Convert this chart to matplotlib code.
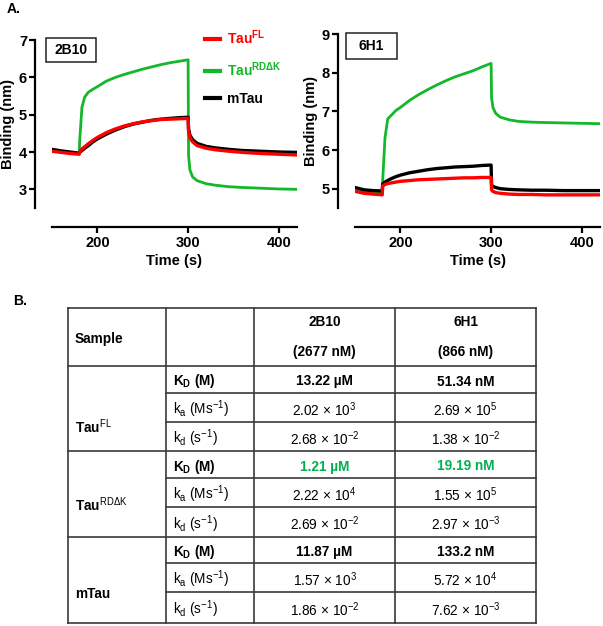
import matplotlib
matplotlib.use("Agg")
import matplotlib.pyplot as plt
from matplotlib.patches import Rectangle

plt.rcParams['font.family'] = ['Liberation Sans', 'DejaVu Sans']
plt.rcParams['mathtext.fontset'] = 'custom'
plt.rcParams['mathtext.rm'] = 'Liberation Sans'
plt.rcParams['mathtext.it'] = 'Liberation Sans:italic'
plt.rcParams['mathtext.bf'] = 'Liberation Sans:bold'

# ---------------- data ----------------
time_s = [150, 160, 170, 180, 180.5, 183, 186, 190, 195, 200, 210, 220, 230, 240,
          250, 260, 270, 280, 290, 300, 300.5, 302, 305, 310, 320, 330, 345, 360,
          380, 400, 420]

# 2B10 panel
tauFL_2B10 = [4.02, 3.99, 3.96, 3.94, 4.00, 4.08, 4.14, 4.22, 4.31, 4.39, 4.52, 4.62,
              4.70, 4.76, 4.81, 4.84, 4.87, 4.88, 4.89, 4.90, 4.55, 4.38, 4.27, 4.17,
              4.10, 4.06, 4.02, 3.99, 3.96, 3.94, 3.92]
tauRD_2B10 = [4.03, 4.00, 3.97, 3.95, 4.30, 5.20, 5.47, 5.60, 5.68, 5.75, 5.90, 6.00,
              6.08, 6.15, 6.22, 6.28, 6.34, 6.39, 6.43, 6.47, 3.90, 3.52, 3.33, 3.23,
              3.15, 3.11, 3.07, 3.05, 3.03, 3.01, 3.00]
mTau_2B10 = [4.07, 4.03, 4.00, 3.97, 3.99, 4.04, 4.10, 4.17, 4.27, 4.35, 4.48, 4.59,
             4.68, 4.75, 4.80, 4.85, 4.88, 4.90, 4.92, 4.93, 4.62, 4.45, 4.33, 4.23,
             4.15, 4.11, 4.07, 4.04, 4.02, 4.00, 3.99]

# 6H1 panel
tauFL_6H1 = [4.93, 4.88, 4.86, 4.84, 5.07, 5.11, 5.13, 5.15, 5.17, 5.19, 5.21, 5.23,
             5.24, 5.25, 5.26, 5.27, 5.28, 5.28, 5.29, 5.29, 4.97, 4.93, 4.90, 4.88,
             4.86, 4.85, 4.85, 4.84, 4.84, 4.84, 4.84]
tauRD_6H1 = [4.95, 4.92, 4.90, 4.88, 5.20, 6.30, 6.80, 6.90, 7.02, 7.10, 7.28, 7.43,
             7.56, 7.68, 7.79, 7.89, 7.97, 8.05, 8.15, 8.24, 7.35, 7.10, 6.95, 6.85,
             6.78, 6.74, 6.72, 6.71, 6.70, 6.69, 6.68]
mTau_6H1 = [5.03, 4.97, 4.95, 4.94, 5.12, 5.17, 5.21, 5.26, 5.31, 5.35, 5.41, 5.45,
            5.49, 5.52, 5.54, 5.56, 5.57, 5.58, 5.60, 5.61, 5.10, 5.06, 5.03, 5.00,
            4.98, 4.97, 4.96, 4.96, 4.95, 4.95, 4.95]

x_ticks = [200, 300, 400]
y_ticks_2B10 = [3, 4, 5, 6, 7]
y_ticks_6H1 = [5, 6, 7, 8, 9]

# table data
col_headers = [("2B10", "(2677 nM)"), ("6H1", "(866 nM)")]
samples = ["Tau$^{\\mathrm{FL}}$", "Tau$^{\\mathrm{RD\u0394K}}$", "mTau"]
params = ["K$_{\\mathbf{D}}$ (M)", "k$_{\\mathrm{a}}$ (Ms$^{\\mathrm{-1}}$)",
          "k$_{\\mathrm{d}}$ (s$^{\\mathrm{-1}}$)"]
values_2B10 = ["13.22 \u00b5M", "2.02 \u00d7 10$^{3}$", "2.68 \u00d7 10$^{-2}$",
               "1.21 \u00b5M", "2.22 \u00d7 10$^{4}$", "2.69 \u00d7 10$^{-2}$",
               "11.87 \u00b5M", "1.57 \u00d7 10$^{3}$", "1.86 \u00d7 10$^{-2}$"]
values_6H1 = ["51.34 nM", "2.69 \u00d7 10$^{5}$", "1.38 \u00d7 10$^{-2}$",
              "19.19 nM", "1.55 \u00d7 10$^{5}$", "2.97 \u00d7 10$^{-3}$",
              "133.2 nM", "5.72 \u00d7 10$^{4}$", "7.62 \u00d7 10$^{-3}$"]

RED = "#FF0000"
GREEN = "#12B82A"
GREEN_TXT = "#00B050"
BLACK = "#000000"

W, H = 603, 626
fig = plt.figure(figsize=(W / 100, H / 100), dpi=100)


def px_axes(l, t, r, b):
    return fig.add_axes([l / W, 1 - b / H, (r - l) / W, (b - t) / H])


def style(ax, ylim, yticks):
    ax.set_xlim(150, 420)
    ax.set_ylim(*ylim)
    ax.set_xticks(x_ticks)
    ax.set_yticks(yticks)
    for s in ("top", "right"):
        ax.spines[s].set_visible(False)
    ax.spines["left"].set_position(("outward", 12))
    ax.spines["bottom"].set_position(("outward", 14))
    for s in ("left", "bottom"):
        ax.spines[s].set_linewidth(1.6)
    ax.tick_params(width=1.6, length=4, labelsize=10.5, pad=2)
    for lab in ax.get_xticklabels() + ax.get_yticklabels():
        lab.set_fontweight("bold")
    ax.set_xlabel("Time (s)", fontsize=10.5, fontweight="bold", labelpad=3)
    ax.set_ylabel("Binding (nm)", fontsize=10.5, fontweight="bold", labelpad=3)
    ax.patch.set_alpha(0)


lw = 2.0
ax1 = px_axes(52, 40, 297, 208)
ax1.plot(time_s, tauRD_2B10, color=GREEN, lw=lw, label="Tau$^{\\mathbf{RD\u0394K}}$", zorder=2)
ax1.plot(time_s, mTau_2B10, color=BLACK, lw=lw + 0.4, label="mTau", zorder=3)
ax1.plot(time_s, tauFL_2B10, color=RED, lw=lw + 0.4, label="Tau$^{\\mathbf{FL}}$", zorder=4)
style(ax1, (2.5, 7), y_ticks_2B10)
h, l = ax1.get_legend_handles_labels()
order = [2, 0, 1]
leg = ax1.legend([h[i] for i in order], [l[i] for i in order], loc="upper left",
                 bbox_to_anchor=(0.6, 1.1), frameon=False, handlelength=1.1,
                 handletextpad=0.5, labelspacing=0.95, borderaxespad=0,
                 prop={"weight": "bold", "size": 10}, labelcolor="linecolor")
for line in leg.get_lines():
    line.set_linewidth(3)

ax2 = px_axes(355, 34, 600, 208)
ax2.plot(time_s, tauRD_6H1, color=GREEN, lw=lw, zorder=2)
ax2.plot(time_s, mTau_6H1, color=BLACK, lw=lw + 0.4, zorder=3)
ax2.plot(time_s, tauFL_6H1, color=RED, lw=lw + 0.4, zorder=4)
style(ax2, (4.5, 9), y_ticks_6H1)

# ---------------- overlay (labels, boxes, table) ----------------
ov = fig.add_axes([0, 0, 1, 1], zorder=10)
ov.set_xlim(0, W)
ov.set_ylim(H, 0)
ov.axis("off")
ov.patch.set_alpha(0)

ov.text(7, 9, "A.", fontsize=10, fontweight="bold", va="center", ha="left")
ov.text(13, 301, "B.", fontsize=10, fontweight="bold", va="center", ha="left")

for (x0, y0, x1, y1, txt) in [(46, 38, 96, 62, "2B10"), (346, 33, 397, 59, "6H1")]:
    ov.add_patch(Rectangle((x0, y0), x1 - x0, y1 - y0, fill=False, lw=1.1, ec="#222222"))
    ov.text((x0 + x1) / 2, (y0 + y1) / 2 + 0.5, txt, fontsize=10, fontweight="bold",
            ha="center", va="center")

# table grid
LC = "#3a3a3a"
xs = [68, 166, 254, 395, 536]
top, hdr, bottom = 308, 366, 623
row_edges = [366, 393, 422, 451, 478, 507, 537, 563, 592, 623]
for x in xs:
    ov.plot([x, x], [top, bottom], color=LC, lw=1.2, solid_capstyle="projecting")
for y in [top, hdr, 451, 537, bottom]:
    ov.plot([xs[0], xs[-1]], [y, y], color=LC, lw=1.2, solid_capstyle="projecting")
for y in [393, 422, 478, 507, 563, 592]:
    ov.plot([xs[1], xs[-1]], [y, y], color=LC, lw=1.2)

fs = 9.8
ov.text(75, 339, "Sample", fontsize=fs, fontweight="bold", ha="left", va="center")
ccent = [(xs[2] + xs[3]) / 2, (xs[3] + xs[4]) / 2]
for cx, (name, conc) in zip(ccent, col_headers):
    ov.text(cx, 322, name, fontsize=fs, fontweight="bold", ha="center", va="center")
    ov.text(cx, 352, conc, fontsize=fs, fontweight="bold", ha="center", va="center")

sample_y = [427, 505, 594]
for s, y in zip(samples, sample_y):
    ov.text(75, y, s, fontsize=fs, fontweight="bold", ha="left", va="center")

for i in range(9):
    yc = (row_edges[i] + row_edges[i + 1]) / 2 + 2
    p = params[i % 3]
    is_kd = (i % 3 == 0)
    ov.text(173, yc, p, fontsize=fs, fontweight="bold" if is_kd else "normal",
            ha="left", va="center")
    color = GREEN_TXT if i == 3 else "black"
    for cx, vals in zip(ccent, [values_2B10, values_6H1]):
        ov.text(cx, yc, vals[i], fontsize=fs, fontweight="bold" if is_kd else "normal",
                color=color, ha="center", va="center")

fig.savefig("out.png", dpi=100)
